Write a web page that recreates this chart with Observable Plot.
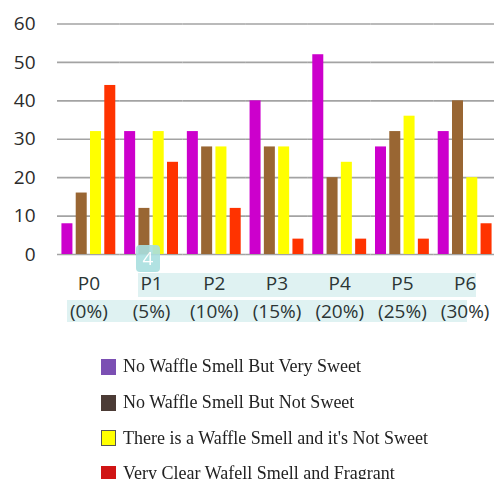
<!DOCTYPE html>
<html>
<head>
<meta charset="utf-8">
<script src="https://cdn.jsdelivr.net/npm/d3@7"></script>
<script src="https://cdn.jsdelivr.net/npm/@observablehq/plot@0.6"></script>
<style>
  html, body { margin: 0; padding: 0; background: #fff; overflow: hidden; }
  #wrap { position: relative; width: 494px; height: 479px; overflow: hidden; }
  #chart { position: absolute; left: 0; top: 0; }
  .hl { position: absolute; background: #dff2f2; }
  .badge { position: absolute; background: #a9dfdf; color: #fff; border-radius: 4px;
           font: 19px "Open Sans", sans-serif; text-align: center; line-height: 26px; opacity: 0.9; }
  #legend { position: absolute; left: 101px; top: 349px; font-family: "Liberation Serif", "DejaVu Serif", serif;
            font-size: 18px; color: #222; filter: blur(0.5px); }
  .item { display: flex; align-items: center; height: 35.7px; white-space: nowrap; }
  .sw { width: 15px; height: 16px; margin-right: 7px; box-sizing: border-box; flex: none; }
</style>
</head>
<body>
<div id="wrap">
  <div class="hl" style="left:138px; top:273px; width:338px; height:24px;"></div>
  <div class="hl" style="left:67px; top:300px; width:400px; height:22px;"></div>
  <div id="chart"></div>
  <div class="badge" style="left:136px; top:245px; width:24px; height:27px;">4</div>
  <div id="legend"></div>
</div>
<script>
// Test groups (waffle batches) and their additive percentage
const groups = ["P0", "P1", "P2", "P3", "P4", "P5", "P6"];
const percents = ["(0%)", "(5%)", "(10%)", "(15%)", "(20%)", "(25%)", "(30%)"];

// Response categories
const series = [
  "No Waffle Smell But Very Sweet",
  "No Waffle Smell But Not Sweet",
  "There is a Waffle Smell and it's Not Sweet",
  "Very Clear Wafell Smell and Fragrant"
];

// Counts per group, one array per category
const veryNoSmellSweet = [8, 32, 32, 40, 52, 28, 32];
const noSmellNotSweet  = [16, 12, 28, 28, 20, 32, 40];
const smellNotSweet    = [32, 32, 28, 28, 24, 36, 20];
const clearFragrant    = [44, 24, 12, 4, 4, 4, 8];

const yTicks = [0, 10, 20, 30, 40, 50, 60];

const barColors = ["#cc00cc", "#996633", "#ffff00", "#ff3300"];
const legendColors = ["#7b4fb3", "#4b3b35", "#ffff00", "#d01414"];

const valueRows = [veryNoSmellSweet, noSmellNotSweet, smellNotSweet, clearFragrant];
const data = [];
groups.forEach((g, i) => {
  series.forEach((s, j) => {
    data.push({group: g, series: s, value: valueRows[j][i]});
  });
});

const chart = Plot.plot({
  width: 494,
  height: 330,
  marginLeft: 57,
  marginRight: -2,
  marginTop: 23.5,
  marginBottom: 76,
  style: {fontFamily: "'Open Sans', sans-serif", fontSize: "19px", color: "#2b2b2b", background: "transparent"},
  fx: {domain: groups, padding: 0, round: false, axis: null},
  x: {domain: series, axis: null, round: false, paddingInner: 0.23, paddingOuter: 0.31},
  y: {domain: [0, 60], ticks: yTicks, tickSize: 0, tickPadding: 22, label: null},
  color: {domain: series, range: barColors},
  marks: [
    Plot.ruleY(yTicks, {stroke: "#a3a3a3", strokeWidth: 1.7}),
    Plot.barY(data, {fx: "group", x: "series", y: "value", fill: "series"}),
    Plot.text(groups, {fx: d => d, text: d => d, frameAnchor: "bottom", dy: 35, fill: "#2b3535"}),
    Plot.text(groups, {fx: d => d, text: (d, i) => percents[i], frameAnchor: "bottom", dy: 63, fill: "#2b3535"})
  ]
});
document.getElementById("chart").appendChild(chart);

// Legend
const legend = document.getElementById("legend");
series.forEach((s, j) => {
  const item = document.createElement("div");
  item.className = "item";
  const sw = document.createElement("div");
  sw.className = "sw";
  sw.style.background = legendColors[j];
  if (j === 2) sw.style.border = "1.5px solid #555";
  const label = document.createElement("span");
  label.textContent = s;
  item.appendChild(sw);
  item.appendChild(label);
  legend.appendChild(item);
});
</script>
</body>
</html>
